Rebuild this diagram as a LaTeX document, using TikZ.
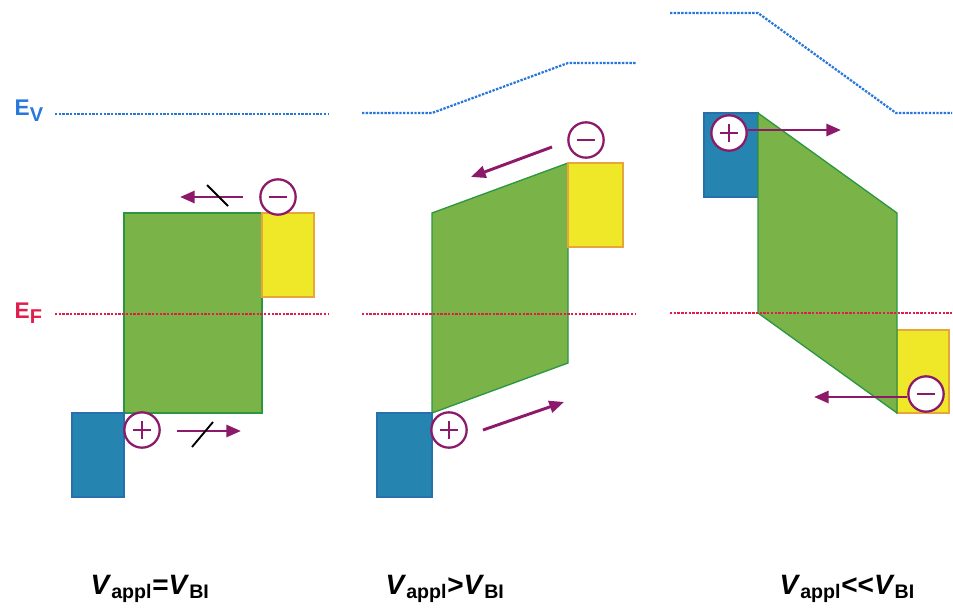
\documentclass[tikz,border=0pt]{standalone}
\usepackage{fontspec}
\setmainfont{Liberation Sans}
\usetikzlibrary{arrows.meta}
\definecolor{gfill}{RGB}{122,180,72}
\definecolor{gdraw}{RGB}{45,150,65}
\definecolor{yfill}{RGB}{238,232,40}
\definecolor{ydraw}{RGB}{232,165,60}
\definecolor{bfill}{RGB}{38,132,176}
\definecolor{bdraw}{RGB}{40,112,172}
\definecolor{purp}{RGB}{140,25,105}
\definecolor{evcol}{RGB}{40,120,220}
\definecolor{efcol}{RGB}{225,30,75}
\begin{document}
\begin{tikzpicture}[x=0.75pt,y=-0.75pt,
  gbox/.style={fill=gfill,draw=gdraw,line width=1pt,line join=miter},
  ybox/.style={fill=yfill,draw=ydraw,line width=1pt},
  bbox/.style={fill=bfill,draw=bdraw,line width=1pt},
  evline/.style={evcol,dash pattern=on 1.8pt off 1pt,line width=1.7pt},
  efline/.style={efcol,dash pattern=on 1.8pt off 1pt,line width=1.7pt},
  carrier/.style={circle,draw=purp,line width=1.7pt,fill=white,minimum size=26.5pt,inner sep=0pt},
  poscarrier/.style={carrier,path picture={\draw[purp,line width=1.3pt]
      ([xshift=-6.5pt]path picture bounding box.center) -- ([xshift=6.5pt]path picture bounding box.center)
      ([yshift=-6.5pt]path picture bounding box.center) -- ([yshift=6.5pt]path picture bounding box.center);}},
  negcarrier/.style={carrier,path picture={\draw[purp,line width=1.8pt]
      ([xshift=-7pt]path picture bounding box.center) -- ([xshift=7pt]path picture bounding box.center);}},
  parrow/.style={purp,line width=2.2pt,-{Triangle[length=11pt,width=9pt]}},
  block/.style={black,line width=1.4pt},
  cond/.style={font=\fontsize{21}{24}\selectfont\bfseries,anchor=base west},
  lvl/.style={font=\fontsize{17}{20}\selectfont\bfseries,anchor=base west}
]
\useasboundingbox (0,0) rectangle (953,610);

% level labels
\node[lvl,text=evcol] (ev) at (10,116) {E\raisebox{-0.5ex}{\fontsize{15}{15}\selectfont V}};
\node[lvl,text=efcol] (ef) at (10,318) {E\raisebox{-0.5ex}{\fontsize{15}{15}\selectfont F}};

% ---------------- panel 1 ----------------
\draw[evline] (55,114) -- (328,114);
\draw[gbox] (124,213) rectangle (262,413);
\draw[ybox] (262,213) rectangle (314,297);
\draw[bbox] (72,413) rectangle (124,497);
\draw[efline] (55,314) -- (328,314);
\node[negcarrier] (m1) at (278,197) {};
\node[poscarrier] (p1) at (142,430) {};
\coordinate (a1s) at (243,197); \coordinate (a1e) at (180,197);
\draw[parrow] (a1s) -- (a1e);
\coordinate (s1a) at (207,185); \coordinate (s1b) at (228,206);
\draw[block] (s1a) -- (s1b);
\coordinate (b1s) at (177,431); \coordinate (b1e) at (241,431);
\draw[parrow] (b1s) -- (b1e);
\coordinate (s2a) at (192,447); \coordinate (s2b) at (213,422);
\draw[block] (s2a) -- (s2b);

% ---------------- panel 2 ----------------
\draw[evline] (362,113) -- (432,113) -- (568,63) -- (636,63);
\draw[gbox] (432,213) -- (568,163) -- (568,363) -- (432,413) -- cycle;
\draw[ybox] (568,163) rectangle (623,247);
\draw[bbox] (377,413) rectangle (432,497);
\draw[efline] (362,314) -- (636,314);
\node[negcarrier] (m2) at (586,140) {};
\node[poscarrier] (p2) at (449,430) {};
\coordinate (a2s) at (552,147); \coordinate (a2e) at (471,177);
\draw[parrow] (a2s) -- (a2e);
\coordinate (b2s) at (483,430); \coordinate (b2e) at (564,402);
\draw[parrow] (b2s) -- (b2e);

% ---------------- panel 3 ----------------
\draw[evline] (670,13) -- (758,13) -- (896,113) -- (952,113);
\draw[bbox] (704,113) rectangle (758,197);
\draw[ybox] (897,330) rectangle (949,413);
\draw[gbox] (758,113) -- (897,213) -- (897,413) -- (758,313) -- cycle;
\draw[efline] (670,313) -- (952,313);
\node[poscarrier] (p3) at (729,133) {};
\coordinate (a3e) at (841,130);
\draw[parrow] (p3.east |- a3e) -- (a3e);
\node[negcarrier] (m3) at (926,394) {};
\coordinate (b3e) at (814,397);
\draw[parrow] (m3.west |- b3e) -- (b3e);

% ---------------- conditions ----------------
\node[cond] (c1) at (86,594) {\textit{V}\textsubscript{appl}=\textit{V}\textsubscript{BI}};
\node[cond] (c2) at (381,594) {\textit{V}\textsubscript{appl}>\textit{V}\textsubscript{BI}};
\node[cond] (c3) at (775,594) {\textit{V}\textsubscript{appl}<{}<\textit{V}\textsubscript{BI}};
\end{tikzpicture}
\end{document}
